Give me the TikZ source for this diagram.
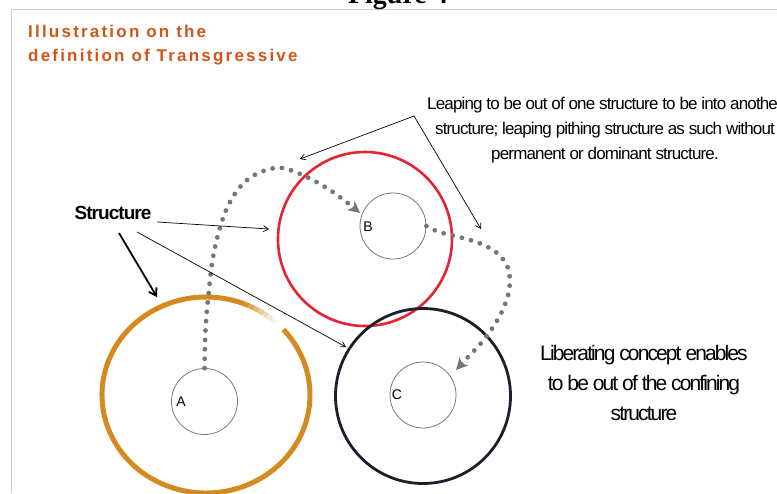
\documentclass[tikz,border=0pt]{standalone}
\usepackage{fontspec}
\setmainfont{Liberation Sans}
\newfontfamily\serifbold[BoldFont={Liberation Serif Bold}]{Liberation Serif}
\newfontfamily\titlefont[LetterSpace=13]{Liberation Sans}
\newfontfamily\tightfont[LetterSpace=-5]{Liberation Sans}
\newfontfamily\tighterfont[LetterSpace=-9]{Liberation Sans}
\usetikzlibrary{arrows.meta}

\definecolor{titlecol}{RGB}{210,85,25}
\definecolor{dotcol}{RGB}{112,120,122}
\definecolor{ringred}{RGB}{230,35,50}
\definecolor{ringgold}{RGB}{212,138,30}
\definecolor{ringdark}{RGB}{28,30,42}
\definecolor{innercol}{RGB}{120,120,120}
\definecolor{framecol}{RGB}{205,205,205}

\tikzset{
  inner/.style={circle, draw=innercol, line width=0.8pt, minimum size=66pt, inner sep=0pt},
  ringB/.style={circle, draw=ringred, line width=2.6pt, minimum size=174pt, inner sep=0pt},
  ringC/.style={circle, draw=ringdark, line width=2.8pt, minimum size=175pt, inner sep=0pt},
  letter/.style={font=\fontsize{14}{14}\selectfont, inner sep=0pt},
  leap/.style={dotcol, line width=4.8pt, line cap=round, dash pattern=on 0pt off 9.4pt,
    -{Stealth[length=12pt, width=12pt, inset=3.5pt, line width=0pt]}},
  pointer/.style={black, line width=0.7pt, -{Straight Barb[length=5pt, width=6pt]}},
  boldpointer/.style={black, line width=1.8pt, -{Straight Barb[length=7pt, width=9pt]}},
}

\begin{document}
\begin{tikzpicture}[x=1pt, y=1pt]
  \useasboundingbox (0,0) rectangle (777,-493);
  \clip (0,0) rectangle (777,-493);

  % page frame
  \draw[framecol, line width=1pt] (11,-493) -- (11,-9) -- (777,-9);
  \node[anchor=base, inner sep=0pt, font=\serifbold\bfseries\fontsize{28}{28}\selectfont]
    (fig) at (398,-3) {Figure 4};

  % heading
  \node[anchor=base west, inner sep=0pt, text=titlecol, font=\titlefont\bfseries\fontsize{17}{17}\selectfont]
    (h1) at (28,-37) {Illustration on the};
  \node[anchor=base west, inner sep=0pt, text=titlecol, font=\titlefont\bfseries\fontsize{17}{17}\selectfont]
    (h2) at (28,-61) {definition of Transgressive};

  % outer rings; the gold one opens at the upper right and fades out towards the gap
  \coordinate (oA) at (206,-395);
  \draw[ringgold, line width=5pt] (oA) ++(69:104 and 98)
    arc[start angle=69, end angle=402, x radius=104, y radius=98];
  \foreach \a/\o in {66/0.9, 63/0.75, 60/0.6, 57/0.45, 54/0.32, 51/0.2, 48/0.1}{
    \draw[ringgold, line width=5pt, opacity=\o, line cap=butt] (oA) ++(\a:104 and 98)
      arc[start angle=\a, end angle=\a+3.2, x radius=104, y radius=98];
  }
  \node[ringB] (oB) at (365,-239) {};
  \node[ringC] (oC) at (423,-396) {};

  % inner circles and their letters
  \node[inner] (iA) at (204.5,-401.5) {};
  \node[inner] (iB) at (393,-226) {};
  \node[inner] (iC) at (423,-395) {};
  \node[letter] (lA) at (181,-402) {A};
  \node[letter] (lB) at (368,-227) {B};
  \node[letter] (lC) at (397,-395) {C};

  % dotted leaps between structures
  \draw[leap] plot[smooth, tension=0.6] coordinates {
    (iA.north) (205.5,-330) (208,-300) (214,-252) (227,-208) (247,-180)
    (275,-168) (298,-173) (330,-190) (360,-213)};
  \draw[leap] plot[smooth, tension=0.6] coordinates {
    (iB.east) (439,-232) (459,-237) (479,-243) (497,-253) (508,-268)
    (509.5,-288) (504,-307) (495,-324) (482,-342) (468,-357) (456,-370)};

  % labels
  \node[font=\tightfont\bfseries\fontsize{19}{19}\selectfont, inner sep=0pt]
    (st) at (113,-213) {Structure};
  \node[font=\tightfont\fontsize{17}{25}\selectfont, align=center, inner sep=0pt]
    (leaptext) at (605,-130)
    {Leaping to be out of one structure to be into another\\
     structure; leaping pithing structure as such without\\
     permanent or dominant structure.};
  \node[font=\tighterfont\fontsize{21}{30}\selectfont, align=center, inner sep=0pt]
    (libtext) at (644,-383)
    {Liberating concept enables\\ to be out of the confining\\ structure};

  % pointers
  \coordinate (lt) at (414,-116);
  \coordinate (lt1) at (300,-159);
  \coordinate (lt2) at (481,-229);
  \draw[pointer] (lt) -- (lt1);
  \draw[pointer] (lt) -- (lt2);

  \coordinate (s1) at (157,-222);
  \coordinate (s2) at (119,-233);
  \coordinate (s3) at (137,-232);
  \coordinate (tB) at (269,-229);
  \coordinate (tA) at (157,-297);
  \coordinate (tC) at (346,-347);
  \draw[pointer] (s1) -- (tB);
  \draw[boldpointer] (s2) -- (tA);
  \draw[pointer] (s3) -- (tC);
\end{tikzpicture}
\end{document}
